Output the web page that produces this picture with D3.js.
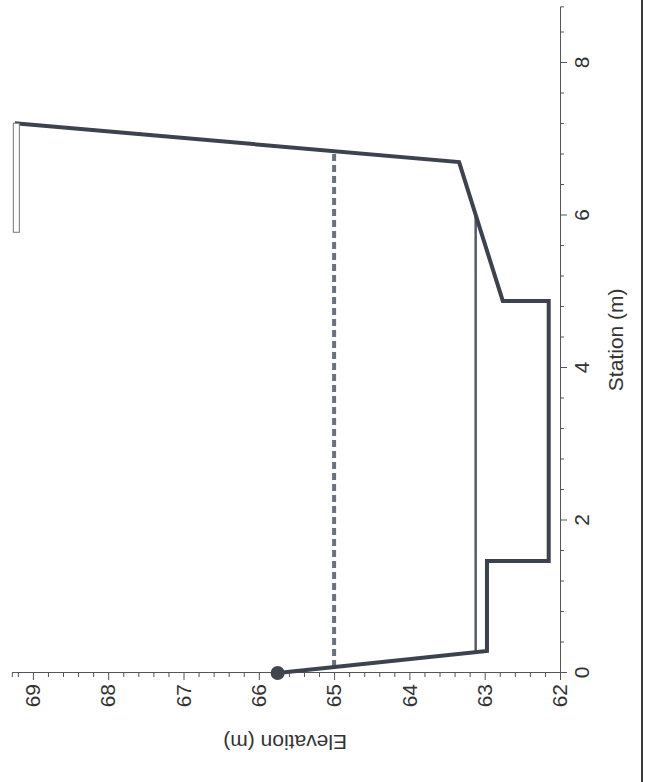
<!DOCTYPE html>
<html>
<head>
<meta charset="utf-8">
<script src="https://cdn.jsdelivr.net/npm/d3@7/dist/d3.min.js"></script>
<style>
  html, body { margin: 0; padding: 0; background: #ffffff; }
  svg { display: block; }
  .axis path, .axis line { stroke: #555; }
  .axis text { fill: #333; font-family: "Liberation Sans", Arial, sans-serif; }
</style>
</head>
<body>
<svg id="chart" width="646" height="782"></svg>
<script>
// Channel cross-section: station (m) across the channel vs. elevation (m)
const groundStation = [0, 0.29, 1.47, 1.47, 4.88, 4.88, 6.70, 7.21];
const groundElev    = [65.75, 62.97, 62.97, 62.15, 62.15, 62.76, 63.34, 69.24];

// water surface (dashed) and lower stage (thin line)
const wsStation = [0.08, 6.84];
const wsElev    = [65.0, 65.0];
const lowStation = [0.27, 6.01];
const lowElev    = [63.12, 63.12];

// bank marker bar along the top of the right bank
const barStation = [5.78, 7.21];
const barElev    = [69.18, 69.26];

// left bank reference point
const pointStation = [0];
const pointElev    = [65.75];

const stationDomain = [0, 8.73];
const elevDomain = [62, 69.28];
const stationMajor = [0, 2, 4, 6, 8];
const elevMajor = [62, 63, 64, 65, 66, 67, 68, 69];

const svg = d3.select("#chart");
const W = 8.73 * 76.25;   // station axis length
const H = 7.28 * 75.3;    // elevation axis length
const originX = 560 - H;  // screen x of the top of the elevation axis
const originY = 673;      // screen y of station 0

// page edge rule on the right
svg.append("line")
  .attr("x1", 642).attr("x2", 642).attr("y1", 0).attr("y2", 782)
  .attr("stroke", "#3a3a3a").attr("stroke-width", 2);

// the plot is laid out in its usual orientation and turned a quarter turn
const g = svg.append("g")
  .attr("transform", `translate(${originX},${originY}) rotate(-90)`);

const x = d3.scaleLinear().domain(stationDomain).range([0, W]);
const y = d3.scaleLinear().domain(elevDomain).range([H, 0]);

const stationMinor = d3.range(0, 8.73, 0.4).filter(v => !stationMajor.some(m => Math.abs(m - v) < 1e-6));
const elevMinor = d3.range(62, 69.28, 0.2).filter(v => !elevMajor.some(m => Math.abs(m - v) < 1e-6));

// station axis
g.append("g").attr("class", "axis")
  .attr("transform", `translate(0,${H})`)
  .call(d3.axisBottom(x).tickValues(stationMinor).tickSize(4).tickFormat(""));
g.append("g").attr("class", "axis")
  .attr("transform", `translate(0,${H})`)
  .call(d3.axisBottom(x).tickValues(stationMajor).tickSize(7).tickPadding(7).tickSizeOuter(0))
  .selectAll("text").style("font-size", "21px");

// elevation axis
g.append("g").attr("class", "axis")
  .call(d3.axisLeft(y).tickValues(elevMinor).tickSize(4).tickFormat(""));
g.append("g").attr("class", "axis")
  .call(d3.axisLeft(y).tickValues(elevMajor).tickSize(7).tickPadding(4).tickSizeOuter(0))
  .selectAll("text").style("font-size", "21px");

// axis titles
g.append("text")
  .attr("transform", `translate(${-62},${y(65.65)}) rotate(-90)`)
  .attr("text-anchor", "middle")
  .style("font-family", "Liberation Sans, Arial, sans-serif")
  .style("font-size", "21px").style("fill", "#333")
  .text("Elevation (m)");
g.append("text")
  .attr("x", x(4.37)).attr("y", H + 63)
  .attr("text-anchor", "middle")
  .style("font-family", "Liberation Sans, Arial, sans-serif")
  .style("font-size", "21px").style("fill", "#333")
  .text("Station (m)");

const line = d3.line().x(d => x(d[0])).y(d => y(d[1]));

// lower stage
g.append("path")
  .datum(d3.zip(lowStation, lowElev))
  .attr("d", line)
  .attr("fill", "none").attr("stroke", "#545a6a").attr("stroke-width", 2.5);

// water surface
g.append("path")
  .datum(d3.zip(wsStation, wsElev))
  .attr("d", line)
  .attr("fill", "none").attr("stroke", "#6c7182").attr("stroke-width", 4)
  .attr("stroke-dasharray", "7,4");

// ground profile
g.append("path")
  .datum(d3.zip(groundStation, groundElev))
  .attr("d", line)
  .attr("fill", "none").attr("stroke", "#3c424e").attr("stroke-width", 4)
  .attr("stroke-linejoin", "miter");

// bank marker bar
g.append("rect")
  .attr("x", x(barStation[0]))
  .attr("y", y(barElev[1]))
  .attr("width", x(barStation[1]) - x(barStation[0]))
  .attr("height", y(barElev[0]) - y(barElev[1]))
  .attr("fill", "#ffffff").attr("stroke", "#777").attr("stroke-width", 1);

// left bank point
g.selectAll("circle.pt")
  .data(d3.zip(pointStation, pointElev))
  .join("circle")
  .attr("class", "pt")
  .attr("cx", d => x(d[0])).attr("cy", d => y(d[1]))
  .attr("r", 7).attr("fill", "#40454f");
</script>
</body>
</html>
